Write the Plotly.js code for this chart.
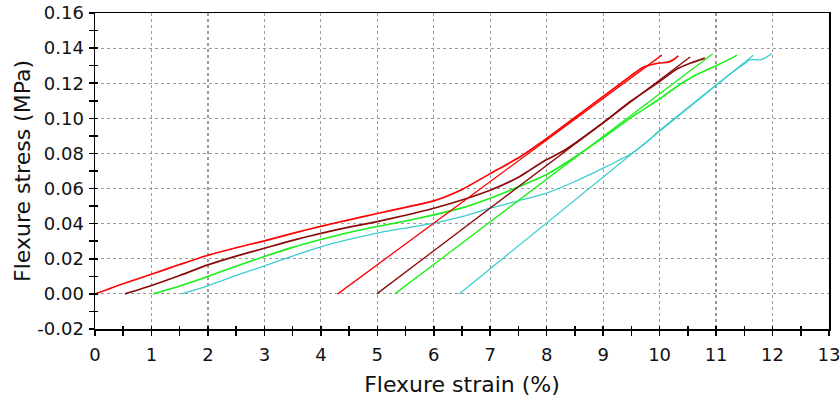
<!DOCTYPE html>
<html>
<head>
<meta charset="utf-8">
<script src="https://cdn.plot.ly/plotly-3.0.1.min.js"></script>
<style>html,body{margin:0;padding:0;background:#fff;}#chart{width:840px;height:403px;}</style>
</head>
<body>
<div id="chart"></div>
<script>
// Specimen 1 (red)
const redLoadX = [0, 0.5, 1, 1.5, 2, 2.5, 3, 3.5, 4, 4.5, 5, 5.5, 6, 6.5, 7, 7.5, 7.8, 8, 8.5, 9, 9.5, 9.7, 9.85, 10, 10.15, 10.25, 10.33];
const redLoadY = [0, 0.0058, 0.0112, 0.0167, 0.0220, 0.0263, 0.0302, 0.0345, 0.0385, 0.0422, 0.0458, 0.0493, 0.0530, 0.0595, 0.0685, 0.0775, 0.0840, 0.0885, 0.1005, 0.1125, 0.1245, 0.1290, 0.1305, 0.1315, 0.1320, 0.1335, 0.1356];
const redUnloadX = [10.04, 4.30];
const redUnloadY = [0.1360, 0];
// Specimen 2 (dark red)
const darkLoadX = [0.53, 1, 1.5, 2, 2.5, 3, 3.5, 4, 4.5, 5, 5.5, 6, 6.5, 7, 7.5, 7.7, 8, 8.3, 9, 9.5, 10, 10.3, 10.55, 10.8];
const darkLoadY = [0, 0.0048, 0.0105, 0.0165, 0.0215, 0.0260, 0.0305, 0.0345, 0.0380, 0.0412, 0.0448, 0.0488, 0.0535, 0.0590, 0.0665, 0.0705, 0.0765, 0.0815, 0.0975, 0.1100, 0.1210, 0.1280, 0.1315, 0.1343];
const darkUnloadX = [10.54, 4.99];
const darkUnloadY = [0.1349, 0];
// Specimen 3 (green)
const greenLoadX = [1.03, 1.5, 2, 2.5, 3, 3.5, 4, 4.5, 5, 5.5, 6, 6.5, 7, 7.5, 8, 8.5, 9, 9.5, 10, 10.3, 10.6, 11, 11.2, 11.37];
const greenLoadY = [0, 0.0045, 0.0099, 0.0158, 0.0213, 0.0265, 0.0310, 0.0350, 0.0384, 0.0415, 0.0450, 0.0490, 0.0545, 0.0610, 0.0680, 0.0780, 0.0890, 0.1005, 0.1110, 0.1180, 0.1240, 0.1300, 0.1330, 0.1360];
const greenUnloadX = [10.94, 5.31];
const greenUnloadY = [0.1368, 0];
// Specimen 4 (cyan)
const cyanLoadX = [1.53, 2, 2.5, 3, 3.5, 4, 4.5, 5, 5.5, 6, 6.5, 7, 7.5, 8, 8.5, 9, 9.5, 9.7, 10, 10.5, 11, 11.3, 11.5, 11.6, 11.78, 11.9, 11.98];
const cyanLoadY = [0, 0.0046, 0.0105, 0.0160, 0.0215, 0.0268, 0.0310, 0.0346, 0.0375, 0.0403, 0.0440, 0.0488, 0.0530, 0.0574, 0.0640, 0.0716, 0.0800, 0.0845, 0.0930, 0.1060, 0.1190, 0.1265, 0.1310, 0.1333, 0.1333, 0.1350, 0.1370];
const cyanUnloadX = [11.66, 6.45];
const cyanUnloadY = [0.1360, 0];

const xTickVals = [0,1,2,3,4,5,6,7,8,9,10,11,12,13];
const yTickVals = [-0.02, 0, 0.02, 0.04, 0.06, 0.08, 0.10, 0.12, 0.14, 0.16];
const yTickText = ["-0.02", "0.00", "0.02", "0.04", "0.06", "0.08", "0.10", "0.12", "0.14", "0.16"];

const colors = {red: '#FF0000', dark: '#8B0A0A', green: '#19F019', cyan: '#3CCDCD'};

function line(x, y, c, w) {
  return {x: x, y: y, type: 'scatter', mode: 'lines', line: {color: c, width: w, shape: 'spline', smoothing: 0.6}, hoverinfo: 'skip', showlegend: false};
}
const traces = [
  line(cyanLoadX, cyanLoadY, colors.cyan, 1.3),
  line(cyanUnloadX, cyanUnloadY, colors.cyan, 1.3),
  line(greenLoadX, greenLoadY, colors.green, 1.6),
  line(greenUnloadX, greenUnloadY, colors.green, 1.3),
  line(darkLoadX, darkLoadY, colors.dark, 1.7),
  line(darkUnloadX, darkUnloadY, colors.dark, 1.3),
  line(redLoadX, redLoadY, colors.red, 1.7),
  line(redUnloadX, redUnloadY, colors.red, 1.3),
  {x: [], y: [], xaxis: 'x2', yaxis: 'y2', type: 'scatter', mode: 'lines', showlegend: false, hoverinfo: 'skip'}
];

const fontFam = 'DejaVu Sans, Verdana, sans-serif';
const layout = {
  width: 840, height: 403,
  margin: {l: 95, r: 11, t: 13, b: 74},
  paper_bgcolor: '#fff', plot_bgcolor: '#fff',
  font: {family: fontFam, color: '#111', size: 18},
  xaxis: {
    range: [0, 13], tickvals: xTickVals, ticks: 'outside', ticklen: 5, tickwidth: 1.5, tickcolor: '#000',
    showline: true, linecolor: '#000', linewidth: 1.5, mirror: true,
    showgrid: true, gridcolor: '#9a9a9a', griddash: 'dot', gridwidth: 1.2, zeroline: false,
    minor: {dtick: 0.5, ticks: 'outside', ticklen: 5, tickwidth: 1.5, tickcolor: '#000', showgrid: false},
    tickfont: {size: 18}, ticklabelstandoff: 4, ticklabeloverflow: 'allow',
    title: {text: 'Flexure strain (%)', font: {size: 22}, standoff: 12}
  },
  yaxis: {
    range: [-0.02, 0.16], tickvals: yTickVals, ticktext: yTickText, ticks: 'outside', ticklen: 5, tickwidth: 1.5, tickcolor: '#000',
    showline: true, linecolor: '#000', linewidth: 1.5, mirror: true,
    showgrid: true, gridcolor: '#9a9a9a', griddash: 'dot', gridwidth: 1.2, zeroline: false,
    minor: {dtick: 0.01, ticks: 'outside', ticklen: 5, tickwidth: 1.5, tickcolor: '#000', showgrid: false},
    tickfont: {size: 18}, ticklabelstandoff: 1, ticklabeloverflow: 'allow',
    title: {text: 'Flexure stress (MPa)', font: {size: 22}, standoff: 0}
  },
  xaxis2: {
    overlaying: 'x', anchor: 'y2', side: 'bottom', range: [0, 13], dtick: 1, ticks: 'inside', ticklen: 3, tickwidth: 1.5, tickcolor: '#000',
    showticklabels: false, showgrid: false, showline: false, zeroline: false,
    minor: {dtick: 0.5, ticks: 'inside', ticklen: 3, tickwidth: 1.5, tickcolor: '#000', showgrid: false}
  },
  yaxis2: {
    overlaying: 'y', anchor: 'x2', side: 'left', range: [-0.02, 0.16], dtick: 0.02, ticks: 'inside', ticklen: 3, tickwidth: 1.5, tickcolor: '#000',
    showticklabels: false, showgrid: false, showline: false, zeroline: false,
    minor: {dtick: 0.01, ticks: 'inside', ticklen: 3, tickwidth: 1.5, tickcolor: '#000', showgrid: false}
  }
};
Plotly.newPlot('chart', traces, layout, {displayModeBar: false, staticPlot: true});
</script>
</body>
</html>
